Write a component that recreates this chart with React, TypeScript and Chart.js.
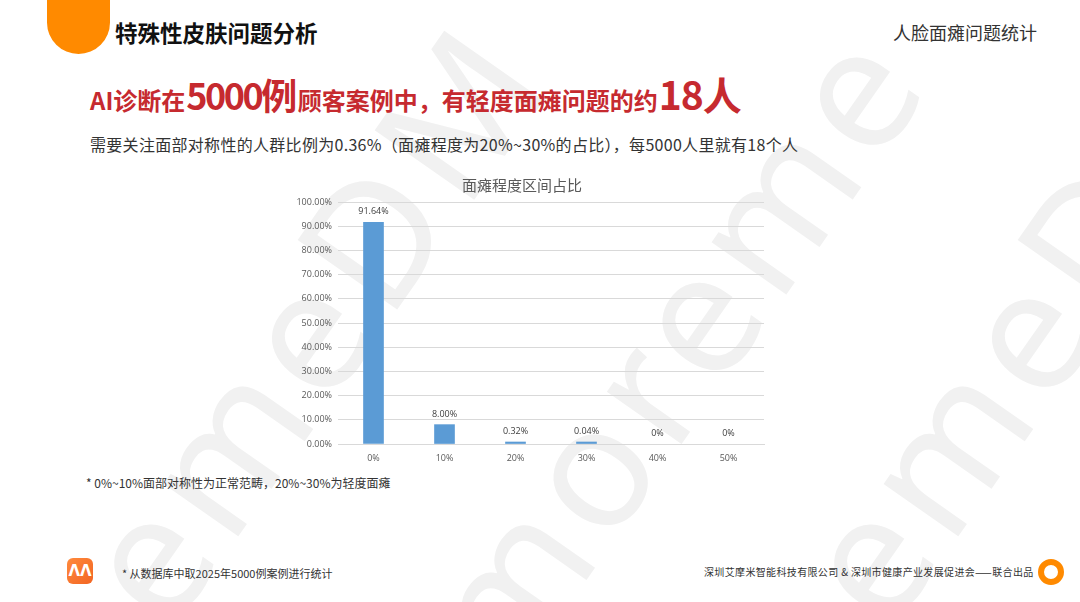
import React, { useEffect, useRef } from "react";
import { Chart, registerables } from "chart.js";

Chart.register(...registerables);

const categories = ["0%", "10%", "20%", "30%", "40%", "50%"];
const shares = [91.64, 8.0, 0.32, 0.04, 0, 0];
const yMax = 100;
const yStep = 10;
const chartTitle = "面瘫程度区间占比";

const CJK = "'Noto Sans CJK SC', 'Noto Sans', sans-serif";
const NUM = "'Open Sans', 'Noto Sans CJK SC', sans-serif";

const fmtValue = (v: number) => (v === 0 ? "0%" : v.toFixed(2) + "%");

const valueLabels = {
  id: "valueLabels",
  afterDatasetsDraw(chart: any) {
    const ctx = chart.ctx;
    const meta = chart.getDatasetMeta(0);
    const zeroY = chart.scales.y.getPixelForValue(0);
    ctx.save();
    ctx.font = `9px ${NUM}`;
    ctx.fillStyle = "#404040";
    ctx.textAlign = "center";
    ctx.textBaseline = "bottom";
    meta.data.forEach((bar: any, i: number) => {
      const top = Number.isFinite(bar.y) ? bar.y : zeroY;
      ctx.fillText(fmtValue(shares[i]), bar.x, top - 6);
    });
    ctx.restore();
  },
};

function BarChart() {
  const ref = useRef<HTMLCanvasElement | null>(null);
  useEffect(() => {
    if (!ref.current) return;
    const chart = new Chart(ref.current, {
      type: "bar",
      data: {
        labels: categories,
        datasets: [
          {
            data: shares.map((v) => (v === 0 ? null : v)),
            backgroundColor: "#5B9BD5",
            borderWidth: 0,
            barThickness: 20,
            minBarLength: 2,
          },
        ],
      },
      options: {
        animation: false,
        responsive: false,
        maintainAspectRatio: false,
        layout: { padding: { left: 0, right: 16, top: 0, bottom: 0 } },
        plugins: {
          legend: { display: false },
          tooltip: { enabled: false },
          title: {
            display: true,
            text: chartTitle,
            color: "#595959",
            font: { family: CJK, size: 15, weight: "normal" },
            padding: { top: 8, bottom: 8 },
          },
        },
        scales: {
          x: {
            grid: { display: false, drawTicks: false },
            border: { display: true, color: "#d9d9d9", width: 1 },
            ticks: {
              color: "#595959",
              font: { family: NUM, size: 9 },
              padding: 9,
            },
            afterFit: (s: any) => {
              s.height = 24;
            },
          },
          y: {
            min: 0,
            max: yMax,
            grid: { color: "#d9d9d9", lineWidth: 1, drawTicks: false },
            border: { display: false },
            ticks: {
              stepSize: yStep,
              color: "#595959",
              font: { family: NUM, size: 9 },
              padding: 6,
              callback: (v: any) => Number(v).toFixed(2) + "%",
            },
            afterFit: (s: any) => {
              s.width = 58;
            },
          },
        },
      },
      plugins: [valueLabels],
    });
    return () => chart.destroy();
  }, []);
  return (
    <canvas
      ref={ref}
      width={500}
      height={300}
      style={{ position: "absolute", left: 280, top: 168, width: 500, height: 300 }}
    />
  );
}

function Watermark() {
  const bands = [
    { left: -120, top: 250, text: "nemeDM" },
    { left: 300, top: 230, text: "moreme" },
    { left: 600, top: 250, text: "nemeDM" },
  ];
  return (
    <div style={{ position: "absolute", inset: 0, overflow: "hidden", pointerEvents: "none" }}>
      {bands.map((b, i) => (
        <div
          key={i}
          style={{
            position: "absolute",
            left: b.left,
            top: b.top,
            fontFamily: "'Noto Sans', sans-serif",
            fontSize: 170,
            fontWeight: 400,
            color: "#f1f1f1",
            whiteSpace: "nowrap",
            transform: "rotate(-55deg)",
            transformOrigin: "50% 50%",
            letterSpacing: 10,
          }}
        >
          {b.text}
        </div>
      ))}
    </div>
  );
}

export default function App() {
  const red = "#C62A2F";
  return (
    <div
      style={{
        position: "fixed",
        left: 0,
        top: 0,
        width: 1080,
        height: 602,
        background: "#fff",
        overflow: "hidden",
        fontFamily: CJK,
      }}
    >
      <Watermark />
      <div
        style={{
          position: "absolute",
          left: 47,
          top: -10,
          width: 63,
          height: 64,
          background: "#FF8A00",
          borderRadius: "0 0 31.5px 31.5px",
        }}
      />
      <div
        style={{
          position: "absolute",
          left: 115,
          top: 17,
          fontSize: 22.5,
          fontWeight: 700,
          color: "#111",
          lineHeight: "30px",
          whiteSpace: "nowrap",
        }}
      >
        特殊性皮肤问题分析
      </div>
      <div
        style={{
          position: "absolute",
          left: 893,
          top: 20,
          fontSize: 18,
          color: "#333",
          lineHeight: "24px",
          whiteSpace: "nowrap",
        }}
      >
        人脸面瘫问题统计
      </div>
      <div
        style={{
          position: "absolute",
          left: 90,
          top: 70,
          height: 46,
          display: "flex",
          alignItems: "baseline",
          color: red,
          fontWeight: 700,
          whiteSpace: "nowrap",
          lineHeight: "46px",
        }}
      >
        <span style={{ fontSize: 24 }}>AI诊断在</span>
        <span style={{ fontSize: 36, marginLeft: 1, letterSpacing: -2.5 }}>5000例</span>
        <span style={{ fontSize: 24, marginLeft: 3 }}>顾客案例中，有轻度面瘫问题的约</span>
        <span style={{ fontSize: 39, marginLeft: 1, letterSpacing: -1 }}>18人</span>
      </div>
      <div
        style={{
          position: "absolute",
          left: 90,
          top: 132,
          fontSize: 16,
          color: "#333",
          lineHeight: "24px",
          whiteSpace: "nowrap",
          letterSpacing: 0.3,
        }}
      >
        需要关注面部对称性的人群比例为0.36%（面瘫程度为20%~30%的占比），每5000人里就有18个人
      </div>
      <BarChart />
      <div
        style={{
          position: "absolute",
          left: 86,
          top: 474,
          fontSize: 12,
          color: "#333",
          lineHeight: "18px",
          whiteSpace: "nowrap",
        }}
      >
        * 0%~10%面部对称性为正常范畴，20%~30%为轻度面瘫
      </div>
      <div
        style={{
          position: "absolute",
          left: 67,
          top: 558,
          width: 26,
          height: 26,
          borderRadius: 6,
          background: "linear-gradient(135deg, #FF8A3D, #F26522)",
          color: "#fff",
          fontFamily: "'DejaVu Sans', sans-serif",
          fontWeight: 700,
          fontSize: 15,
          lineHeight: "26px",
          textAlign: "center",
        }}
      >
        ΛΛ
      </div>
      <div
        style={{
          position: "absolute",
          left: 122,
          top: 565,
          fontSize: 11,
          color: "#333",
          lineHeight: "16px",
          whiteSpace: "nowrap",
        }}
      >
        * 从数据库中取2025年5000例案例进行统计
      </div>
      <div
        style={{
          position: "absolute",
          left: 704,
          top: 564,
          fontSize: 10,
          color: "#333",
          lineHeight: "16px",
          whiteSpace: "nowrap",
          letterSpacing: 0.35,
        }}
      >
        深圳艾摩米智能科技有限公司 &amp; 深圳市健康产业发展促进会——联合出品
      </div>
      <div
        style={{
          position: "absolute",
          left: 1038,
          top: 559,
          width: 14,
          height: 14,
          borderRadius: "50%",
          border: "6px solid #FF8A00",
        }}
      />
    </div>
  );
}
